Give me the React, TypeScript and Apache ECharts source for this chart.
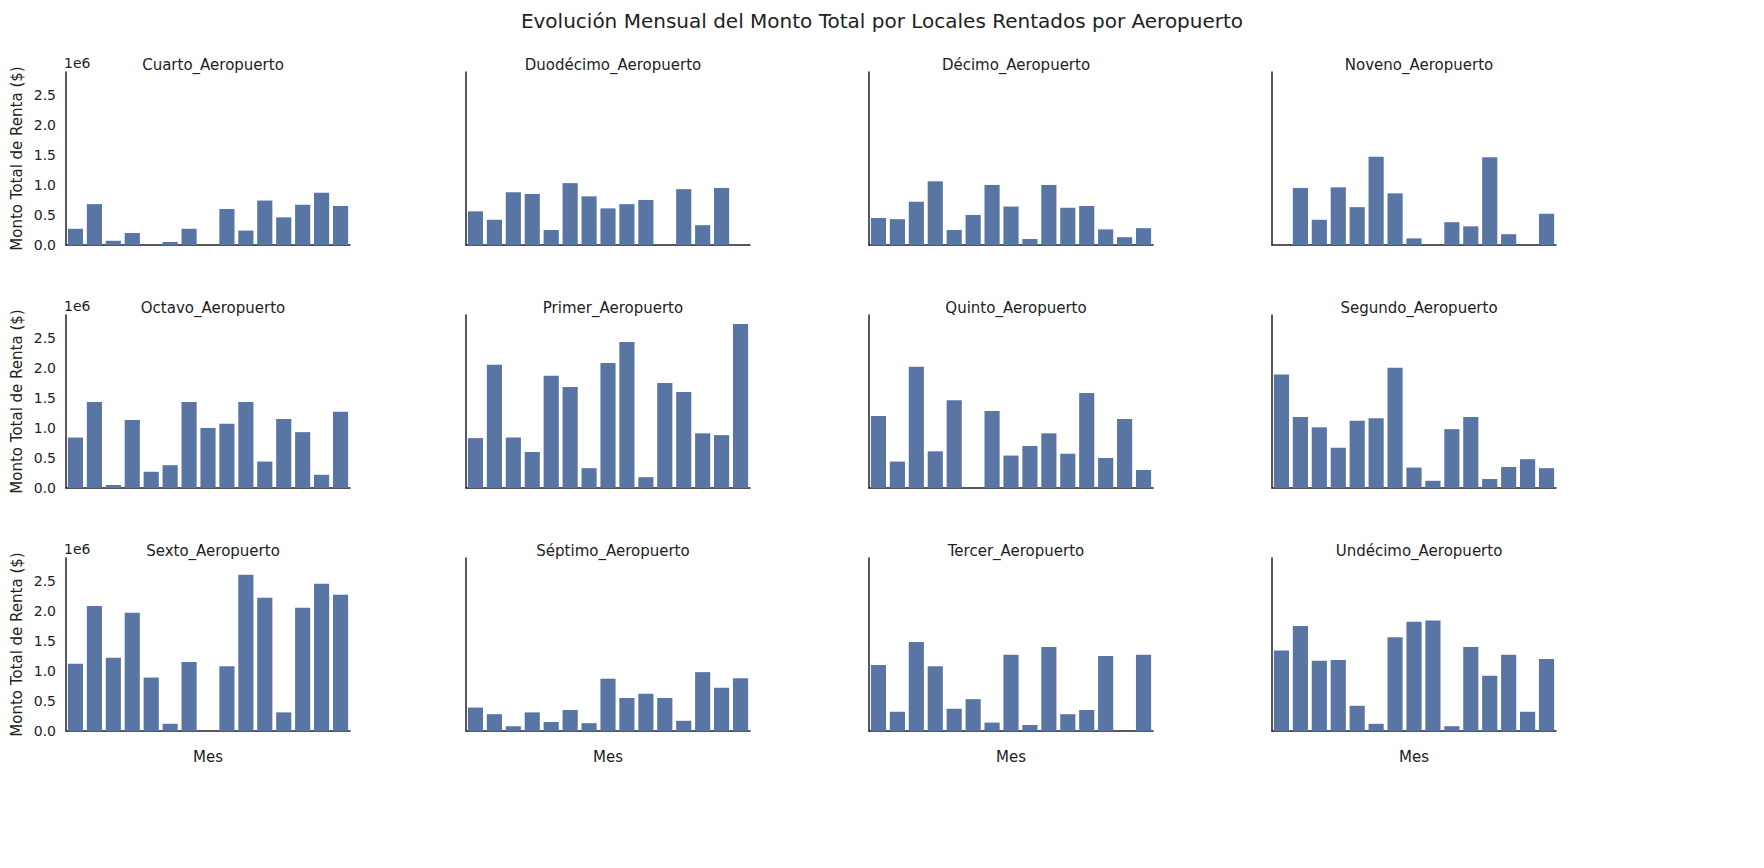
import {useEffect, useRef} from "react";
import * as echarts from "echarts";

const months = ["1", "2", "3", "4", "5", "6", "7", "8", "9", "10", "11", "12", "13", "14", "15"];

const airports = [
    "Cuarto_Aeropuerto", "Duodécimo_Aeropuerto", "Décimo_Aeropuerto", "Noveno_Aeropuerto",
    "Octavo_Aeropuerto", "Primer_Aeropuerto", "Quinto_Aeropuerto", "Segundo_Aeropuerto",
    "Sexto_Aeropuerto", "Séptimo_Aeropuerto", "Tercer_Aeropuerto", "Undécimo_Aeropuerto",
];

// millones de $
const cuarto = [0.27, 0.68, 0.07, 0.2, 0, 0.05, 0.27, 0, 0.6, 0.24, 0.74, 0.46, 0.67, 0.87, 0.65];
const duodecimo = [0.56, 0.42, 0.88, 0.85, 0.25, 1.03, 0.81, 0.61, 0.68, 0.75, 0, 0.93, 0.33, 0.95, 0];
const decimo = [0.45, 0.43, 0.72, 1.06, 0.25, 0.5, 1.0, 0.64, 0.1, 1.0, 0.62, 0.65, 0.26, 0.13, 0.28];
const noveno = [0, 0.95, 0.42, 0.96, 0.63, 1.47, 0.86, 0.11, 0, 0.38, 0.31, 1.46, 0.18, 0, 0.52];
const octavo = [0.84, 1.43, 0.05, 1.13, 0.27, 0.38, 1.43, 1.0, 1.07, 1.43, 0.44, 1.15, 0.93, 0.22, 1.27];
const primer = [0.83, 2.05, 0.84, 0.6, 1.87, 1.68, 0.33, 2.08, 2.43, 0.18, 1.75, 1.6, 0.91, 0.88, 2.73];
const quinto = [1.2, 0.44, 2.02, 0.61, 1.46, 0, 1.28, 0.54, 0.7, 0.91, 0.57, 1.58, 0.5, 1.15, 0.3];
const segundo = [1.89, 1.18, 1.01, 0.67, 1.12, 1.16, 2.0, 0.34, 0.12, 0.98, 1.18, 0.15, 0.35, 0.48, 0.33];
const sexto = [1.12, 2.08, 1.22, 1.97, 0.89, 0.12, 1.15, 0, 1.08, 2.6, 2.22, 0.31, 2.05, 2.45, 2.27];
const septimo = [0.39, 0.28, 0.08, 0.31, 0.15, 0.35, 0.13, 0.87, 0.55, 0.62, 0.55, 0.17, 0.98, 0.72, 0.88];
const tercer = [1.1, 0.32, 1.48, 1.08, 0.37, 0.53, 0.14, 1.27, 0.1, 1.4, 0.28, 0.35, 1.25, 0, 1.27];
const undecimo = [1.34, 1.75, 1.17, 1.18, 0.42, 0.12, 1.56, 1.82, 1.84, 0.08, 1.4, 0.92, 1.27, 0.32, 1.2];

const values = [cuarto, duodecimo, decimo, noveno, octavo, primer, quinto, segundo, sexto, septimo, tercer, undecimo];

const colLeft = [66, 466, 869, 1272];
const rowTop = [72, 315, 558];
const W = 284, H = 173;
const font = "DejaVu Sans";

export default function App() {
    const domRef = useRef<HTMLDivElement>(null);

    useEffect(() => {
        if (!domRef.current) return;
        const chart = echarts.init(domRef.current, undefined, {renderer: "svg"});
        const grid: any[] = [], xAxis: any[] = [], yAxis: any[] = [], series: any[] = [], title: any[] = [], graphic: any[] = [];
        title.push({text: "Evolución Mensual del Monto Total por Locales Rentados por Aeropuerto", left: "center", top: 6,
            textStyle: {fontFamily: font, fontSize: 20, fontWeight: "normal", color: "#222"}});
        airports.forEach((name, i) => {
            const r = Math.floor(i / 4), c = i % 4;
            const left = colLeft[c], top = rowTop[r];
            grid.push({left, top, width: W, height: H});
            xAxis.push({type: "category", gridIndex: i, data: months, boundaryGap: true,
                name: r === 2 ? "Mes" : "", nameLocation: "middle", nameGap: 18,
                nameTextStyle: {fontFamily: font, fontSize: 15, color: "#222"},
                axisLine: {lineStyle: {color: "#222", width: 1.5}}, axisTick: {show: false}, axisLabel: {show: false}});
            yAxis.push({type: "value", gridIndex: i, min: 0, max: 2.88, interval: 0.5,
                name: c === 0 ? "Monto Total de Renta ($)" : "", nameLocation: "middle", nameGap: 42,
                nameTextStyle: {fontFamily: font, fontSize: 15, color: "#222"},
                axisLine: {show: true, lineStyle: {color: "#222", width: 1.5}}, axisTick: {show: false}, splitLine: {show: false},
                axisLabel: {show: c === 0, showMaxLabel: false, fontFamily: font, fontSize: 14, color: "#222", margin: 10,
                    formatter: (v: number) => v.toFixed(1)}});
            series.push({type: "bar", xAxisIndex: i, yAxisIndex: i, data: values[i], barCategoryGap: "20%",
                itemStyle: {color: "#5975a4"}});
            title.push({text: name, left: left + W / 2, top: top - 20, textAlign: "center",
                textStyle: {fontFamily: font, fontSize: 15, fontWeight: "normal", color: "#222"}});
            if (c === 0) graphic.push({type: "text", left: left - 2, top: top - 16,
                style: {text: "1e6", font: `14px ${font}`, fill: "#222"}});
        });
        chart.setOption({animation: false, backgroundColor: "#fff", title, grid, xAxis, yAxis, series, graphic});
        return () => chart.dispose();
    }, []);

    return <div ref={domRef} style={{position: "fixed", left: 0, top: 0, width: 1764, height: 868}} />;
}
